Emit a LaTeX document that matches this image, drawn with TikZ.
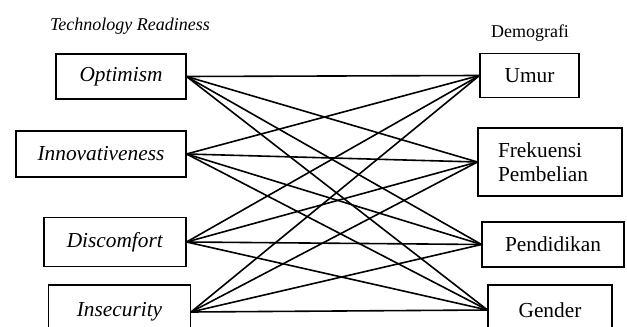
\documentclass[tikz,border=0pt]{standalone}
\usepackage{fontspec}
\setmainfont{Liberation Serif}
\tikzset{
  var/.style={draw, line width=0.8pt, inner sep=0pt, font=\fontsize{16}{18}\selectfont},
  head/.style={font=\fontsize{13.5}{16}\selectfont},
  link/.style={line width=1.2pt}
}
\begin{document}
\begin{tikzpicture}[x=0.75pt,y=-0.75pt]
    \clip (0,0) rectangle (627,327);
    \node[head] (tr) at (130,26) {\textit{Technology Readiness}};
    \node[head] (demo) at (530,33) {Demografi};
    % technology readiness
    \node[var, minimum width=97.5pt, minimum height=33.75pt] (opt) at (121,76.5) {\textit{Optimism}};
    \node[var, minimum width=127.5pt, minimum height=34.5pt] (inn) at (101,154) {\textit{Innovativeness}};
    \node[var, minimum width=106.5pt, minimum height=37pt] (dis) at (115,242) {\textit{Discomfort}};
    \node[var, minimum width=106.5pt, minimum height=40.5pt] (ins) at (119.5,312) {\textit{Insecurity}};
    % demografi
    \node[var, minimum width=74.25pt, minimum height=33pt] (umur) at (529.5,75.5) {Umur};
    \node[var, minimum width=108pt, minimum height=51pt, align=left, text width=78pt] (frek) at (550,162) {Frekuensi\\Pembelian};
    \node[var, minimum width=106.5pt, minimum height=33.75pt] (pend) at (553,244.5) {Pendidikan};
    \node[var, minimum width=93pt, minimum height=37.5pt] (gend) at (550,310) {Gender};
    \foreach \a in {opt,inn,dis,ins}
    \foreach \b in {umur,frek,pend,gend}
    \draw[link] (\a.east) -- (\b.west);
\end{tikzpicture}
\end{document}
